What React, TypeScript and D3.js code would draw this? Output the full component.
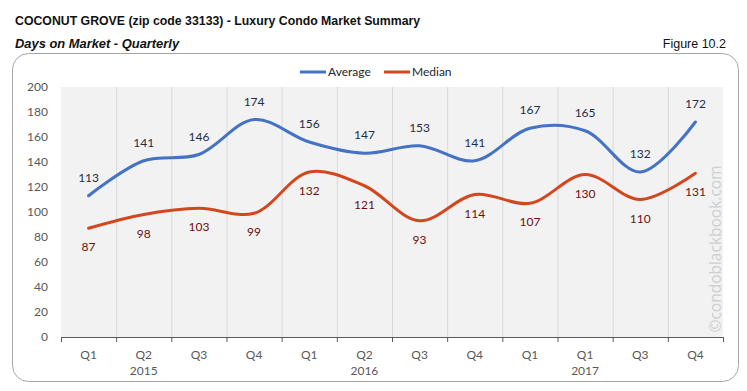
import React, { useEffect, useRef } from "react";
import * as d3 from "d3";

const quarters = ["Q1", "Q2", "Q3", "Q4", "Q1", "Q2", "Q3", "Q4", "Q1", "Q1", "Q3", "Q4"];
const years = ["", "2015", "", "", "", "2016", "", "", "", "2017", "", ""];
const average = [113, 141, 146, 174, 156, 147, 153, 141, 167, 165, 132, 172];
const median = [87, 98, 103, 99, 132, 121, 93, 114, 107, 130, 110, 131];
const yTicks = [0, 20, 40, 60, 80, 100, 120, 140, 160, 180, 200];

const W = 747;
const H = 391;

export default function App() {
  const svgRef = useRef<SVGSVGElement>(null);

  useEffect(() => {
    const svg = d3.select(svgRef.current);
    svg.selectAll("*").remove();

    const left = 61;
    const right = 723;
    const top = 87;
    const bottom = 337;
    const font = "Lato, 'Open Sans', sans-serif";

    const x = d3
      .scaleBand<number>()
      .domain(quarters.map((_, i) => i))
      .range([left, right]);
    const y = d3.scaleLinear().domain([0, 200]).range([bottom, top]);
    const cx = (i: number) => (x(i) as number) + x.bandwidth() / 2;

    // title block
    svg
      .append("text")
      .attr("x", 15)
      .attr("y", 25)
      .attr("font-family", "'Liberation Sans', Arial, sans-serif")
      .attr("font-size", 12.3)
      .attr("font-weight", "bold")
      .attr("fill", "#111")
      .text("COCONUT GROVE (zip code 33133) - Luxury Condo Market Summary");
    svg
      .append("text")
      .attr("x", 15)
      .attr("y", 48)
      .attr("font-family", "'Liberation Sans', Arial, sans-serif")
      .attr("font-size", 12.9)
      .attr("font-weight", "bold")
      .attr("font-style", "italic")
      .attr("fill", "#111")
      .text("Days on Market - Quarterly");
    svg
      .append("text")
      .attr("x", 726)
      .attr("y", 48)
      .attr("text-anchor", "end")
      .attr("font-family", "'Liberation Sans', Arial, sans-serif")
      .attr("font-size", 12.5)
      .attr("fill", "#111")
      .text("Figure 10.2");

    // chart frame
    svg
      .append("rect")
      .attr("x", 12.5)
      .attr("y", 53.5)
      .attr("width", 726)
      .attr("height", 328)
      .attr("rx", 16)
      .attr("fill", "#fff")
      .attr("stroke", "#a6a6a6")
      .attr("stroke-width", 1);

    // plot background + vertical grid
    svg
      .append("rect")
      .attr("x", left)
      .attr("y", top)
      .attr("width", right - left)
      .attr("height", bottom - top)
      .attr("fill", "#f2f2f2");

    const bounds = quarters.map((_, i) => x(i) as number).concat([right]);
    svg
      .append("g")
      .selectAll("line")
      .data(bounds.slice(1, -1))
      .enter()
      .append("line")
      .attr("x1", (d) => d + 0.5)
      .attr("x2", (d) => d + 0.5)
      .attr("y1", top)
      .attr("y2", bottom)
      .attr("stroke", "#d9d9d9");

    // watermark
    svg
      .append("text")
      .attr("transform", `translate(721,${249}) rotate(-90)`)
      .attr("text-anchor", "middle")
      .attr("font-family", "'Open Sans', sans-serif")
      .attr("font-size", 15.5)
      .attr("fill", "#cfcfcf")
      .text("©condoblackbook.com");

    // y axis labels
    svg
      .append("g")
      .selectAll("text")
      .data(yTicks)
      .enter()
      .append("text")
      .attr("x", 48)
      .attr("y", (d) => y(d))
      .attr("dy", "0.35em")
      .attr("text-anchor", "end")
      .attr("font-family", font)
      .attr("font-size", 12)
      .attr("fill", "#595959")
      .text((d) => d);

    // x axis
    svg
      .append("line")
      .attr("x1", left)
      .attr("x2", right)
      .attr("y1", bottom + 0.5)
      .attr("y2", bottom + 0.5)
      .attr("stroke", "#595959");
    svg
      .append("g")
      .selectAll("line")
      .data(bounds)
      .enter()
      .append("line")
      .attr("x1", (d) => d + 0.5)
      .attr("x2", (d) => d + 0.5)
      .attr("y1", bottom)
      .attr("y2", bottom + 5)
      .attr("stroke", "#595959");

    svg
      .append("g")
      .selectAll("text")
      .data(quarters)
      .enter()
      .append("text")
      .attr("x", (_, i) => cx(i))
      .attr("y", 359)
      .attr("text-anchor", "middle")
      .attr("font-family", font)
      .attr("font-size", 12)
      .attr("fill", "#595959")
      .text((d) => d);
    svg
      .append("g")
      .selectAll("text")
      .data(years)
      .enter()
      .append("text")
      .attr("x", (_, i) => cx(i))
      .attr("y", 375)
      .attr("text-anchor", "middle")
      .attr("font-family", font)
      .attr("font-size", 12)
      .attr("fill", "#595959")
      .text((d) => d);

    // lines
    const line = d3
      .line<number>()
      .x((_, i) => cx(i))
      .y((d) => y(d))
      .curve(d3.curveCatmullRom.alpha(0.5));

    const series = [
      { name: "Average", values: average, color: "#4472c4", labelColor: "#1f2d4a", dy: -18 },
      { name: "Median", values: median, color: "#d2471d", labelColor: "#6e1010", dy: 19 },
    ];

    series.forEach((s) => {
      svg
        .append("path")
        .datum(s.values)
        .attr("d", line)
        .attr("fill", "none")
        .attr("stroke", s.color)
        .attr("stroke-width", 3)
        .attr("stroke-linecap", "round");

      svg
        .append("g")
        .selectAll("text")
        .data(s.values)
        .enter()
        .append("text")
        .attr("x", (_, i) => cx(i))
        .attr("y", (d) => y(d) + s.dy)
        .attr("dy", "0.35em")
        .attr("text-anchor", "middle")
        .attr("font-family", font)
        .attr("font-size", 12)
        .attr("fill", s.labelColor)
        .text((d) => d);
    });

    // legend
    const legend = svg.append("g");
    const legendX = [300, 384];
    series.forEach((s, i) => {
      legend
        .append("line")
        .attr("x1", legendX[i])
        .attr("x2", legendX[i] + 26)
        .attr("y1", 72)
        .attr("y2", 72)
        .attr("stroke", s.color)
        .attr("stroke-width", 3);
      legend
        .append("text")
        .attr("x", legendX[i] + 28)
        .attr("y", 72)
        .attr("dy", "0.35em")
        .attr("font-family", font)
        .attr("font-size", 12)
        .attr("fill", "#262626")
        .text(s.name);
    });
  }, []);

  return (
    <svg
      ref={svgRef}
      width={W}
      height={H}
      style={{ position: "absolute", left: 0, top: 0, display: "block", background: "#fff" }}
    />
  );
}
